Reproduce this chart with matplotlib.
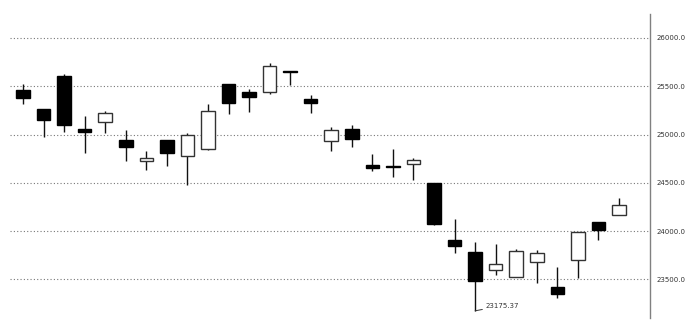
import matplotlib
matplotlib.use("Agg")
import matplotlib.pyplot as plt
import numpy as np

opens = [25465, 25261, 25608, 25059, 25132, 24945, 24730, 24945, 24778, 24851,
         25524, 25438, 25441, 25662, 25369, 24934, 25055, 24689, 24679, 24693,
         24500, 23906, 23785, 23597, 23521, 23681, 23424, 23702, 24097, 24170]
closes = [25379, 25150, 25097, 25025, 25219, 24872, 24757, 24806, 24993, 25248,
          25331, 25393, 25714, 25648, 25324, 25045, 24951, 24651, 24665, 24741,
          24079, 23851, 23480, 23660, 23792, 23774, 23351, 23993, 24007, 24267]
highs = [25521, 25261, 25625, 25188, 25240, 25042, 24834, 24945, 25011, 25321,
         25524, 25476, 25745, 25662, 25414, 25076, 25096, 24796, 24848, 24762,
         24500, 24131, 23892, 23872, 23813, 23809, 23632, 23993, 24097, 24340]
lows = [25316, 24973, 25025, 24806, 25014, 24723, 24633, 24674, 24480, 24844,
        25217, 25234, 25417, 25517, 25224, 24827, 24872, 24627, 24562, 24531,
        24062, 23775, 23175.37, 23542, 23521, 23459, 23313, 23518, 23913, 24170]
yticks = [23500, 24000, 24500, 25000, 25500, 26000]
low_label = "23175.37"

fig = plt.figure(figsize=(7.0, 3.29), dpi=100)
ax = fig.add_axes([10/700, 11/329, 640/700, 304/329])

x = np.arange(len(opens))
o = np.array(opens); c = np.array(closes); h = np.array(highs); l = np.array(lows)
up = c >= o

ax.vlines(x, l, h, color="#111111", lw=1.0, zorder=2)
bottoms = np.minimum(o, c)
heights = np.maximum(np.abs(c - o), 8)
ax.bar(x[up], heights[up], bottom=bottoms[up], width=0.66,
       facecolor="white", edgecolor="#333333", lw=1.0, zorder=3)
ax.bar(x[~up], heights[~up], bottom=bottoms[~up], width=0.66,
       facecolor="black", edgecolor="black", lw=1.0, zorder=3)

imin = int(np.argmin(l))
ax.annotate(low_label, xy=(x[imin], l[imin]), xytext=(10, 5),
            textcoords="offset pixels", fontsize=5, color="#333333",
            va="center", ha="left",
            arrowprops=dict(arrowstyle="-", color="#333333", lw=0.7,
                            shrinkA=0, shrinkB=0))

ax.set_xlim(-0.633, 30.51)
ax.set_ylim(23101, 26248)
ax.set_yticks(yticks)
ax.set_yticklabels([f"{v:.1f}" for v in yticks])
ax.yaxis.tick_right()
ax.tick_params(axis="y", length=0, pad=5, labelsize=5, labelcolor="#333333")
ax.set_xticks([])
ax.grid(axis="y", linestyle=(0, (1, 2)), color="#777777", lw=0.8)
for s in ["top", "left", "bottom"]:
    ax.spines[s].set_visible(False)
ax.spines["right"].set_color("#808080")
ax.spines["right"].set_linewidth(1.0)

fig.savefig("out.png", dpi=100)
